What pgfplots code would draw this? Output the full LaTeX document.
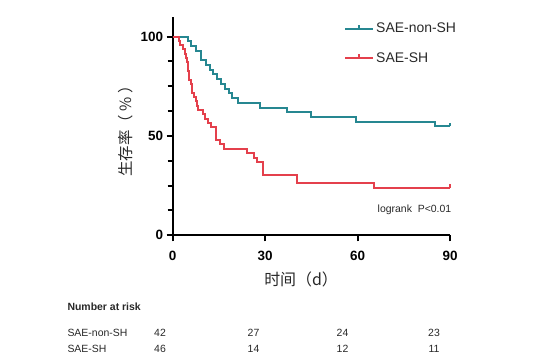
\documentclass[border=0pt]{standalone}
\usepackage{fontspec}
\setmainfont{Liberation Sans}
\newfontfamily\cjk{Noto Sans CJK SC}
\usepackage{pgfplots}
\pgfplotsset{compat=1.18}
\definecolor{tealc}{RGB}{38,135,145}
\definecolor{redc}{RGB}{228,64,76}
\definecolor{txt}{RGB}{40,40,40}
\pgfdeclareplotmark{cens}{\pgfpathmoveto{\pgfpointorigin}\pgfpathlineto{\pgfpoint{0pt}{\pgfplotmarksize}}\pgfusepathqstroke}
\begin{document}
\begin{tikzpicture}
\useasboundingbox (0,0) rectangle (545bp,-362bp);
\begin{axis}[
  at={(172.7bp,-235.3bp)}, anchor=south west,
  scale only axis, width=277.3bp, height=218.6bp,
  xmin=0, xmax=90, ymin=0, ymax=110,
  axis lines=left,
  axis line style={line width=2bp,-},
  xtick={0,30,60,90}, ytick={0,50,100},
  minor ytick={12.5,25,37.5,62.5,75,87.5},
  tick align=outside,
  major tick length=6bp, minor tick length=5bp,
  every tick/.style={black, line width=2bp},
  ticklabel style={font=\fontsize{13.5}{13.5}\selectfont\bfseries},
  xticklabel style={yshift=-6bp},
  /pgf/number format/assume math mode=true,
  xlabel={\cjk 时间（d）},
  ylabel={\cjk 生存率（\ \%\ ）},
  every axis x label/.style={at={(rel axis cs:0.463,-0.2)}, anchor=center, font=\fontsize{16}{16}\selectfont, text=txt},
  every axis y label/.style={at={(rel axis cs:-0.171,0.493)}, anchor=center, rotate=90, font=\fontsize{15.5}{15.5}\selectfont, text=txt},
  clip=false,
  legend cell align=left,
  legend image code/.code={
    \draw[#1,line width=2bp] (-3bp,0bp) -- (25bp,0bp);
    \draw[#1,line width=1.5bp] (11bp,0bp) -- (11bp,4bp);},
  legend style={at={(rel axis cs:0.607,0.99)}, anchor=north west, draw=none, fill=none,
    font=\fontsize{14}{14}\selectfont, text=txt, row sep=14bp},
]
\addplot[const plot, tealc, line width=2bp] coordinates {
(0,100) (5.0,97.6) (6.0,95.2) (7.6,92.9) (9.1,88.1) (10.9,85.7) (12.0,83.3)
(13.1,81.0) (14.5,78.6) (15.8,76.2) (16.9,73.8) (18.3,71.4) (19.2,69.0)
(21.3,66.7) (28.3,64.3) (37.0,61.9) (45.0,59.5) (59.5,57.1) (85.1,54.8) (90,54.8)};
\addlegendentry{SAE-non-SH}
\addplot[const plot, redc, line width=2bp] coordinates {
(0,100) (2.0,97.8) (2.3,95.7) (3.2,93.5) (3.9,91.3) (4.3,89.1) (4.8,87.0)
(5.0,82.6) (5.3,78.3) (6.0,76.1) (6.3,71.7) (7.0,69.6) (7.4,67.4) (7.8,65.2)
(8.2,63.0) (9.8,60.9) (10.6,58.7) (11.5,56.5) (12.5,54.3) (14.2,47.8)
(15.3,45.7) (16.5,43.5) (24.0,41.3) (26.5,39.1) (27.5,37.0) (29.2,30.4)
(40.3,26.1) (65.2,23.9) (90,23.9)};
\addlegendentry{SAE-SH}
\addplot[only marks, mark=cens, mark size=3.5bp, tealc, line width=1.8bp, forget plot] coordinates {(90,54.8)};
\addplot[only marks, mark=cens, mark size=3.5bp, redc, line width=1.8bp, forget plot] coordinates {(90,23.9)};
\node[anchor=west, font=\fontsize{10.5}{10.5}\selectfont, text=txt] at (rel axis cs:0.7265,0.1157) {logrank\ \ P<0.01};
\end{axis}
\node[anchor=west, font=\fontsize{10.5}{10.5}\selectfont\bfseries, text=txt] at (64bp,-306.7bp) {Number at risk};
\node[anchor=west, font=\fontsize{10.5}{10.5}\selectfont, text=txt] at (64bp,-332.7bp) {SAE-non-SH};
\node[anchor=west, font=\fontsize{10.5}{10.5}\selectfont, text=txt] at (64bp,-349.3bp) {SAE-SH};
\foreach \x/\a/\b in {160/42/46, 253.5/27/14, 342.5/24/12, 434/23/11}{
  \node[font=\fontsize{10.5}{10.5}\selectfont, text=txt] at (\x bp,-332.7bp) {\a};
  \node[font=\fontsize{10.5}{10.5}\selectfont, text=txt] at (\x bp,-349.3bp) {\b};
}
\end{tikzpicture}
\end{document}
